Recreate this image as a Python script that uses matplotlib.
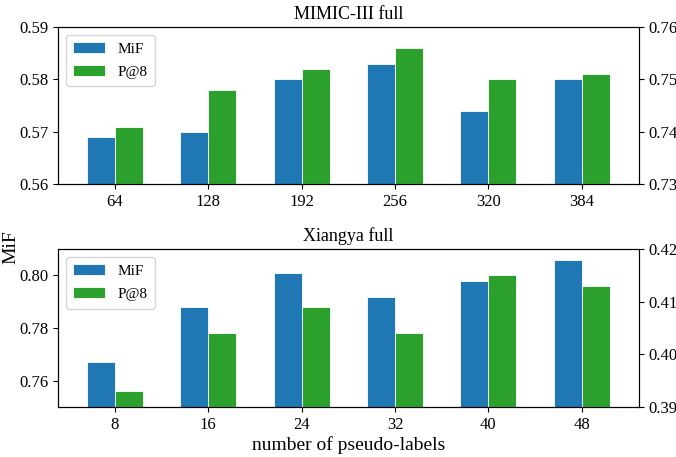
import numpy as np
import matplotlib
matplotlib.use('Agg')
import matplotlib.pyplot as plt

plt.rcParams['font.family'] = ['Liberation Serif', 'DejaVu Serif']
plt.rcParams['mathtext.fontset'] = 'stix'

# data
mimic_labels = ['64', '128', '192', '256', '320', '384']
mimic_mif = [0.569, 0.570, 0.580, 0.583, 0.574, 0.580]
mimic_p8 = [0.741, 0.748, 0.752, 0.756, 0.750, 0.751]

xiangya_labels = ['8', '16', '24', '32', '40', '48']
xiangya_mif = [0.767, 0.788, 0.801, 0.792, 0.798, 0.806]
xiangya_p8 = [0.393, 0.404, 0.409, 0.404, 0.415, 0.413]

blue = '#1f77b4'
green = '#2ca02c'
w = 0.3
fs = 12

fig = plt.figure(figsize=(6.76, 4.57), dpi=100)
ax_top = fig.add_axes([0.0858, 0.597, 0.859, 0.344])
ax_bot = fig.add_axes([0.0858, 0.109, 0.859, 0.346])


def panel(ax, labels, mif, p8, title, ylim_l, yticks_l, ylim_r, yticks_r):
    x = np.arange(len(labels))
    b1 = ax.bar(x - w / 2, mif, w, color=blue, edgecolor='white', linewidth=0.6, label='MiF')
    ax.set_ylim(*ylim_l)
    ax.set_yticks(yticks_l)
    ax.set_yticklabels(['%.2f' % v for v in yticks_l], fontsize=fs)
    ax.set_xticks(x)
    ax.set_xticklabels(labels, fontsize=fs)
    ax.set_xlim(-0.61, len(labels) - 1 + 0.61)
    ax.set_title(title, fontsize=13)
    ax2 = ax.twinx()
    b2 = ax2.bar(x + w / 2, p8, w, color=green, edgecolor='white', linewidth=0.6, label='P@8')
    ax2.set_ylim(*ylim_r)
    ax2.set_yticks(yticks_r)
    ax2.set_yticklabels(['%.2f' % v for v in yticks_r], fontsize=fs)
    ax2.legend([b1, b2], ['MiF', 'P@8'], loc='upper left', fontsize=11,
               handlelength=2.1, borderpad=0.5, labelspacing=0.6, handletextpad=0.8)
    return ax2


panel(ax_top, mimic_labels, mimic_mif, mimic_p8, 'MIMIC-III full',
      (0.56, 0.59), [0.56, 0.57, 0.58, 0.59], (0.73, 0.76), [0.73, 0.74, 0.75, 0.76])
panel(ax_bot, xiangya_labels, xiangya_mif, xiangya_p8, 'Xiangya full',
      (0.75, 0.81), [0.76, 0.78, 0.80], (0.39, 0.42), [0.39, 0.40, 0.41, 0.42])

ax_bot.set_xlabel('number of pseudo-labels', fontsize=14, labelpad=2)
fig.text(0.016, 0.46, 'MiF', rotation=90, fontsize=14, va='center', ha='center')

fig.savefig('out.png', dpi=100)
